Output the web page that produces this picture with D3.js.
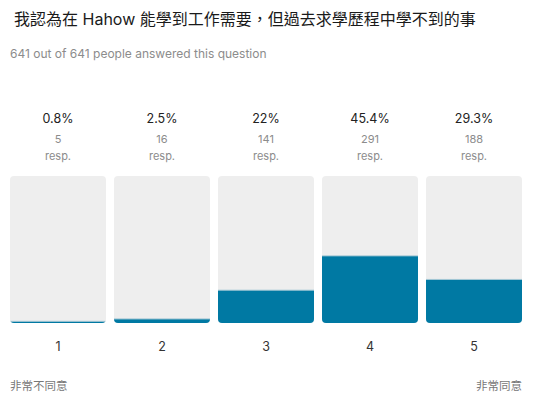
<!DOCTYPE html>
<html>
<head>
<meta charset="utf-8">
<script src="https://cdn.jsdelivr.net/npm/d3@7"></script>
<style>
  html, body { margin: 0; padding: 0; background: #fff; }
  svg text { font-family: Inter, "Noto Sans CJK TC", "Noto Sans", sans-serif; }
</style>
</head>
<body>
<div id="chart"></div>
<script>
var categories = ["1", "2", "3", "4", "5"],
    percents   = [0.8, 2.5, 22, 45.4, 29.3],
    counts     = [5, 16, 141, 291, 188],
    pctLabels  = ["0.8%", "2.5%", "22%", "45.4%", "29.3%"],
    endLabels  = ["非常不同意", "非常同意"];

var title    = "我認為在 Hahow 能學到工作需要，但過去求學歷程中學不到的事",
    subtitle = "641 out of 641 people answered this question";

var width = 538, height = 407,
    plot = {left: 10, right: 522, top: 176, bottom: 323};

var svg = d3.select("#chart").append("svg")
    .attr("width", width)
    .attr("height", height);

// header texts
svg.append("text")
    .attr("x", 14).attr("y", 25)
    .style("font-size", "16px")
    .attr("fill", "#1a1a1a")
    .text(title);

svg.append("text")
    .attr("x", 10).attr("y", 58)
    .style("font-size", "12px")
    .attr("fill", "#8c8c8c")
    .text(subtitle);

// scales
var x = d3.scaleBand()
    .domain(categories)
    .range([plot.left, plot.right])
    .paddingInner(0.077)
    .paddingOuter(0);

var y = d3.scaleLinear()
    .domain([0, 100])
    .range([plot.bottom, plot.top]);

// rounded clip per bar
var defs = svg.append("defs");
categories.forEach(function(c, i){
    defs.append("clipPath").attr("id", "clip" + i)
      .append("rect")
        .attr("x", x(c)).attr("y", plot.top)
        .attr("width", x.bandwidth())
        .attr("height", plot.bottom - plot.top)
        .attr("rx", 4).attr("ry", 4);
});

var bars = svg.append("g").selectAll("g")
    .data(categories)
    .enter().append("g")
    .attr("clip-path", function(d, i){ return "url(#clip" + i + ")"; });

// background track
bars.append("rect")
    .attr("x", function(d){ return x(d); })
    .attr("y", plot.top)
    .attr("width", x.bandwidth())
    .attr("height", plot.bottom - plot.top)
    .attr("fill", "#eeeeee");

// thin light edge just above the fill
bars.append("line")
    .attr("x1", function(d){ return x(d); })
    .attr("x2", function(d){ return x(d) + x.bandwidth(); })
    .attr("y1", function(d, i){ return y(percents[i]) - 0.5; })
    .attr("y2", function(d, i){ return y(percents[i]) - 0.5; })
    .attr("stroke", "#a9cad6")
    .attr("stroke-width", 1);

// value fill
bars.append("rect")
    .attr("x", function(d){ return x(d); })
    .attr("y", function(d, i){ return y(percents[i]); })
    .attr("width", x.bandwidth())
    .attr("height", function(d, i){ return plot.bottom - y(percents[i]); })
    .attr("fill", "#0079a3");

// labels above bars
var lab = svg.append("g").selectAll("g")
    .data(categories)
    .enter().append("g")
    .attr("transform", function(d){ return "translate(" + (x(d) + x.bandwidth() / 2) + ",0)"; })
    .attr("text-anchor", "middle");

lab.append("text")
    .attr("y", 123)
    .style("font-size", "12.5px")
    .attr("fill", "#222")
    .text(function(d, i){ return pctLabels[i]; });

lab.append("text")
    .attr("y", 143)
    .style("font-size", "11px")
    .attr("fill", "#8c8c8c")
    .text(function(d, i){ return counts[i]; });

lab.append("text")
    .attr("y", 160)
    .style("font-size", "11px")
    .attr("fill", "#8c8c8c")
    .text("resp.");

// category axis
var axis = svg.append("g")
    .attr("transform", "translate(0," + plot.bottom + ")")
    .call(d3.axisBottom(x).tickSize(0).tickPadding(19));
axis.select(".domain").remove();
axis.selectAll("text")
    .style("font-size", "12.5px")
    .style("font-family", "Inter, 'Noto Sans CJK TC', sans-serif")
    .attr("fill", "#333");

// scale ends
svg.append("text")
    .attr("x", plot.left).attr("y", 390)
    .style("font-size", "11.5px")
    .attr("fill", "#777")
    .text(endLabels[0]);

svg.append("text")
    .attr("x", plot.right).attr("y", 390)
    .attr("text-anchor", "end")
    .style("font-size", "11.5px")
    .attr("fill", "#777")
    .text(endLabels[1]);
</script>
</body>
</html>
